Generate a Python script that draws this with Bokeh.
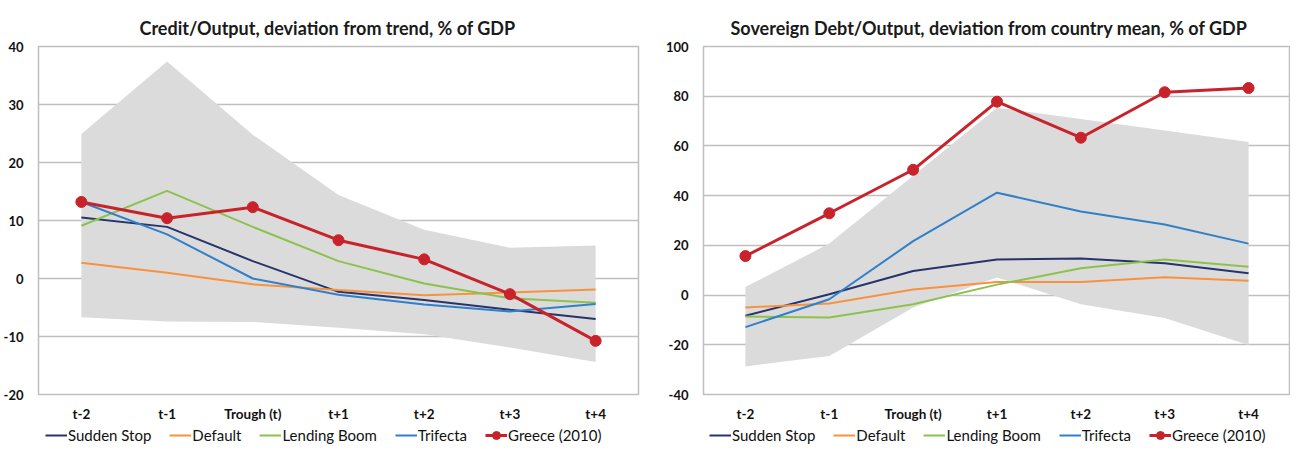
from bokeh.plotting import figure
from bokeh.models import FactorRange, Range1d, FixedTicker, Legend, LegendItem
from bokeh.layouts import row, column
from bokeh.embed import file_html
from bokeh.resources import INLINE

categories = ["t-2", "t-1", "Trough (t)", "t+1", "t+2", "t+3", "t+4"]

# Left: Credit/Output, deviation from trend, % of GDP
credit_band_upper = [24.9, 37.4, 24.8, 14.4, 8.4, 5.3, 5.7]
credit_band_lower = [-6.7, -7.4, -7.5, -8.5, -9.6, -11.9, -14.4]
credit_sudden_stop = [10.5, 8.9, 3.0, -2.3, -3.7, -5.4, -7.0]
credit_default = [2.7, 1.0, -1.0, -2.0, -2.9, -2.4, -1.9]
credit_lending_boom = [9.1, 15.1, 8.9, 3.0, -0.85, -3.4, -4.2]
credit_trifecta = [13.2, 7.6, 0.0, -2.8, -4.5, -5.7, -4.4]
credit_greece = [13.2, 10.4, 12.3, 6.6, 3.3, -2.7, -10.75]
credit_ticks = [-20, -10, 0, 10, 20, 30, 40]

# Right: Sovereign Debt/Output, deviation from country mean, % of GDP
debt_band_upper = [3.2, 20.7, 48.0, 75.4, 70.8, 66.2, 61.6]
debt_band_lower = [-28.7, -24.5, -5.0, 7.1, -3.7, -9.2, -20.1]
debt_sudden_stop = [-8.3, 0.3, 9.7, 14.3, 14.7, 12.8, 8.8]
debt_default = [-5.0, -3.4, 2.2, 5.3, 5.3, 7.2, 5.8]
debt_lending_boom = [-8.6, -9.0, -3.7, 4.2, 10.8, 14.3, 11.4]
debt_trifecta = [-12.9, -1.7, 21.7, 41.2, 33.6, 28.4, 20.7]
debt_greece = [15.7, 32.9, 50.4, 77.8, 63.3, 81.6, 83.3]
debt_ticks = [-40, -20, 0, 20, 40, 60, 80, 100]

series_names = ["Sudden Stop", "Default", "Lending Boom", "Trifecta", "Greece (2010)"]
series_colors = ["#27336b", "#f7923e", "#8cc24c", "#2f80c8", "#c8232b"]
band_color = "#dcdbdc"
grid_color = "#bfbfbf"

FONT = "Lato"
FRAME_H = 348


def add_series(p, xs, series):
    items = []
    for name, vals, col in zip(series_names, series, series_colors):
        if name.startswith("Greece"):
            r1 = p.line(xs, vals, line_color=col, line_width=3)
            r2 = p.scatter(xs, vals, size=11, fill_color=col, line_color=col)
            items.append(LegendItem(label=name, renderers=[r1, r2]))
        else:
            r = p.line(xs, vals, line_color=col, line_width=2)
            items.append(LegendItem(label=name, renderers=[r]))
    return items


def make_panel(title, band_u, band_l, series, yr, ticks, left_border, frame_w, right_border, title_off, legend_x):
    p = figure(
        x_range=FactorRange(factors=categories),
        y_range=Range1d(*yr),
        frame_width=frame_w, frame_height=FRAME_H,
        min_border_left=left_border, min_border_right=right_border,
        min_border_top=46, min_border_bottom=29,
        output_backend="svg", toolbar_location=None,
    )
    p.title.text = title
    p.title.text_font = FONT
    p.title.text_font_size = "18px"
    p.title.text_font_style = "bold"
    p.title.text_color = "#1a1a1a"
    p.title.align = "left"
    p.title.offset = title_off
    p.title.standoff = 15

    p.outline_line_color = grid_color
    p.outline_line_width = 1.5
    p.xgrid.grid_line_color = None
    p.ygrid.grid_line_color = grid_color
    p.ygrid.grid_line_width = 1.5
    p.yaxis.ticker = FixedTicker(ticks=ticks)
    p.yaxis.major_label_overrides = {t: str(t) for t in ticks}

    for ax in (p.xaxis[0], p.yaxis[0]):
        ax.axis_line_color = None
        ax.major_tick_line_color = None
        ax.major_tick_out = 0
        ax.major_tick_in = 0
        ax.minor_tick_line_color = None
        ax.minor_tick_out = 0
        ax.major_label_text_font = FONT
        ax.major_label_text_font_style = "bold"
        ax.major_label_text_color = "#111111"
    p.yaxis.major_label_text_font_size = "13px"
    p.yaxis.major_label_standoff = 15
    p.xaxis.major_label_text_font_size = "13.5px"
    p.xaxis.major_label_standoff = 11

    p.varea(x=categories, y1=band_l, y2=band_u, fill_color=band_color)
    add_series(p, categories, series)

    # legend strip below the chart: same series drawn out of view, legend shown
    lg = figure(
        x_range=FactorRange(factors=categories),
        y_range=Range1d(1000, 1001),
        frame_width=frame_w, frame_height=22,
        min_border_left=left_border, min_border_right=right_border,
        min_border_top=0, min_border_bottom=0,
        x_axis_type=None, y_axis_type=None,
        output_backend="svg", toolbar_location=None,
    )
    lg.outline_line_color = None
    lg.grid.visible = False
    items = add_series(lg, categories, series)
    leg = Legend(items=items, orientation="horizontal", location=(legend_x, 1),
                 label_text_font=FONT, label_text_font_size="15px", label_text_color="#111111",
                 glyph_width=22, label_standoff=1, spacing=18,
                 padding=0, margin=0, border_line_color=None, background_fill_alpha=0)
    lg.add_layout(leg, "center")
    return column(p, lg)


left = make_panel("Credit/Output, deviation from trend, % of GDP",
                  credit_band_upper, credit_band_lower,
                  [credit_sudden_stop, credit_default, credit_lending_boom, credit_trifecta, credit_greece],
                  (-20, 40), credit_ticks, 33, 600, 7, 101, 7)
right = make_panel("Sovereign Debt/Output, deviation from country mean, % of GDP",
                   debt_band_upper, debt_band_lower,
                   [debt_sudden_stop, debt_default, debt_lending_boom, debt_trifecta, debt_greece],
                   (-40, 100), debt_ticks, 58, 587, 0, 27, 6)

layout = row(left, right)
open("out.html", "w").write(file_html(layout, INLINE))
